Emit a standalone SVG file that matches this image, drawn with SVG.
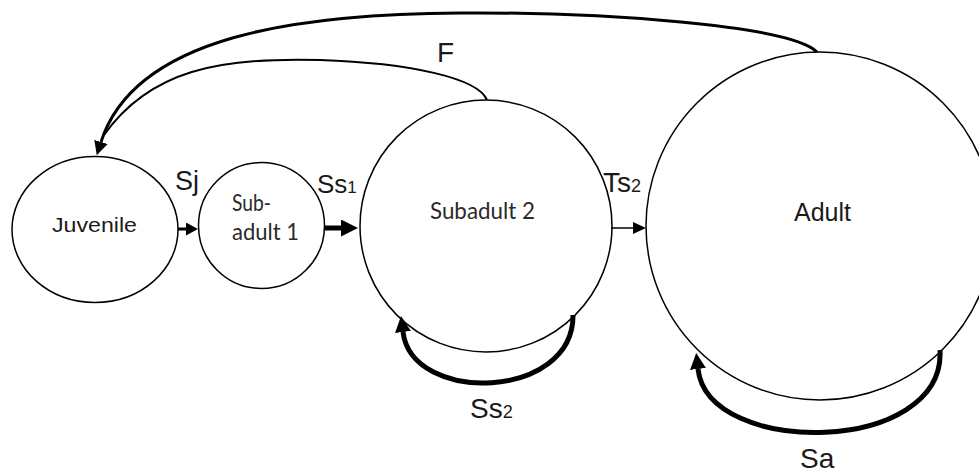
<svg xmlns="http://www.w3.org/2000/svg" width="979" height="473" viewBox="0 0 979 473">
  <style>
    .stage { fill: #ffffff; stroke: #000000; stroke-width: 1.5; }
    .lbl { font-family: "Liberation Sans", Arial, sans-serif; fill: #1a1a1a; }
    .cal { font-family: Lato, "Open Sans", sans-serif; fill: #2a2a2a; }
    .edge { fill: none; stroke: #000000; }
  </style>
  <defs>
    <marker id="headS" markerUnits="userSpaceOnUse" markerWidth="13" markerHeight="13" refX="0" refY="6.5" orient="auto">
      <path d="M0,0 L12,6.5 L0,13 z" fill="#000"/>
    </marker>
    <marker id="headL" markerUnits="userSpaceOnUse" markerWidth="18" markerHeight="18" refX="0" refY="8.5" orient="auto">
      <path d="M0,0 L17,8.5 L0,17 z" fill="#000"/>
    </marker>
    <marker id="headT" markerUnits="userSpaceOnUse" markerWidth="14" markerHeight="13" refX="0" refY="6" orient="auto">
      <path d="M0,0 L13,6 L0,12 z" fill="#000"/>
    </marker>
    <marker id="headC" markerUnits="userSpaceOnUse" markerWidth="15" markerHeight="14" refX="0" refY="7" orient="auto">
      <path d="M0,0 L14,7 L0,14 z" fill="#000"/>
    </marker>
    <marker id="headLoop" markerUnits="userSpaceOnUse" markerWidth="17" markerHeight="17" refX="0" refY="8" orient="auto">
      <path d="M0,0 L16,8 L0,16 z" fill="#000"/>
    </marker>
  </defs>

  <rect width="979" height="473" fill="#ffffff"/>

  <!-- life stages -->
  <g id="juvenile">
    <ellipse class="stage" cx="95" cy="229.5" rx="83" ry="73"/>
    <text class="lbl" x="52" y="232" font-size="21" textLength="85" lengthAdjust="spacingAndGlyphs">Juvenile</text>
  </g>
  <g id="subadult1">
    <circle class="stage" cx="261.5" cy="225.5" r="63"/>
    <text class="cal" x="232" y="211" font-size="23.5" textLength="39" lengthAdjust="spacingAndGlyphs">Sub-</text>
    <text class="cal" x="232" y="240" font-size="23.5" textLength="67" lengthAdjust="spacingAndGlyphs">adult 1</text>
  </g>
  <g id="subadult2">
    <circle class="stage" cx="486" cy="226" r="126"/>
    <text class="cal" x="430" y="219" font-size="23.5" textLength="105" lengthAdjust="spacingAndGlyphs">Subadult 2</text>
  </g>
  <g id="adult">
    <circle class="stage" cx="820" cy="226" r="174"/>
    <text class="lbl" x="794" y="221" font-size="25">Adult</text>
  </g>

  <!-- transitions -->
  <g id="connectors">
    <line class="edge" x1="178" y1="229" x2="186" y2="229" stroke-width="3" marker-end="url(#headS)"/>
    <line class="edge" x1="325" y1="228" x2="341" y2="228" stroke-width="5" marker-end="url(#headL)"/>
    <line class="edge" x1="611" y1="228" x2="633" y2="228" stroke-width="1.5" marker-end="url(#headT)"/>

    <!-- fecundity from both reproductive stages back to juveniles -->
    <path class="edge" d="M817,52 C790,25 600,12 460,13 C300,14 135,35 101,142" stroke-width="3" marker-end="url(#headC)"/>
    <path class="edge" d="M487,100 C478,78 410,63 320,60 C220,57 150,70 104,135" stroke-width="2"/>

    <!-- stasis loops -->
    <path class="edge" d="M573,315 C574,400 412,405 403,332" stroke-width="5" marker-end="url(#headLoop)"/>
    <path class="edge" d="M940,350 C946,455 708,458 698,369" stroke-width="5" marker-end="url(#headLoop)"/>
  </g>

  <!-- rate labels -->
  <g id="labels">
    <text class="lbl" x="175" y="190" font-size="27">Sj</text>
    <text class="lbl" x="317" y="193" font-size="26">Ss<tspan font-size="17">1</tspan></text>
    <text class="lbl" x="603" y="192" font-size="28">Ts<tspan font-size="18">2</tspan></text>
    <text class="lbl" x="437" y="62" font-size="28">F</text>
    <text class="lbl" x="470" y="418" font-size="28">Ss<tspan font-size="18">2</tspan></text>
    <text class="lbl" x="800" y="468" font-size="28">Sa</text>
  </g>
</svg>
